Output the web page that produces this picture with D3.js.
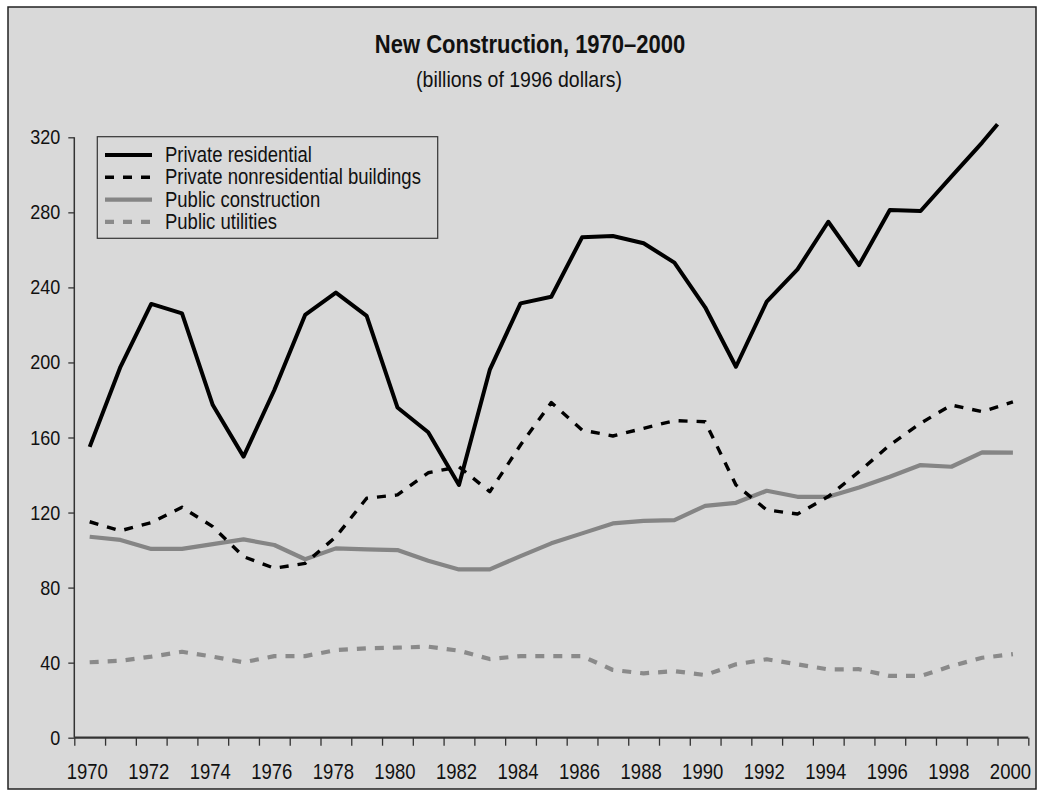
<!DOCTYPE html>
<html>
<head>
<meta charset="utf-8">
<script src="https://cdn.jsdelivr.net/npm/d3@7/dist/d3.min.js"></script>
<style>
  body { margin: 0; background: #fff; }
  svg text { font-family: "Liberation Sans", Arial, sans-serif; fill: #111; }
</style>
</head>
<body>
<div id="chart"></div>
<script>
//Datos
const years = d3.range(1970, 2001);
// la serie residencial termina a mitad del último año
const resYears = d3.range(1970, 2000).concat([1999.5]);
const privateResidential = [155, 197.7, 231.2, 226.2, 177.3, 149.8, 185.3, 225.3, 237.2, 224.8,
  176, 162.8, 134.7, 196, 231.5, 235, 266.7, 267.4, 263.5, 253.2,
  229.4, 197.7, 232.4, 249.6, 275, 251.9, 281.3, 280.7, 299, 317.2, 327];
const privateNonres = [115.1, 110.3, 114.6, 122.8, 112.5, 96.5, 90.3, 92.9, 107.1, 127.6,
  129.4, 141.2, 144.4, 131.1, 156, 178.6, 164, 160.8, 164.9, 169,
  168.4, 134.7, 121.4, 119.2, 128.5, 141.8, 156, 167.6, 177.3, 173.8, 179];
const publicConstruction = [107.1, 105.4, 100.6, 100.6, 103.2, 105.7, 102.7, 95.1, 100.9, 100.4,
  100, 94.3, 89.7, 89.7, 96.8, 103.6, 108.9, 114.2, 115.6, 116,
  123.6, 125.2, 131.6, 128.4, 128.4, 133.4, 139.1, 145.3, 144.4, 152.1, 151.9];
const publicUtilities = [40.2, 41, 43.2, 45.8, 43.2, 40.2, 43.5, 43.5, 46.7, 47.6,
  48, 48.5, 46.4, 41.9, 43.5, 43.5, 43.5, 36.1, 34.3, 35.5,
  33.4, 39.1, 41.8, 39.1, 36.4, 36.5, 32.9, 32.9, 38.2, 42.6, 44.5];
const yTicks = [0, 40, 80, 120, 160, 200, 240, 280, 320];
const xLabelYears = d3.range(1970, 2001, 2);
const seriesNames = ['Private residential', 'Private nonresidential buildings', 'Public construction', 'Public utilities'];

//Estilos de cada serie
const styles = [
  { color: '#000', width: 4, dash: null },
  { color: '#000', width: 3.4, dash: '9,9' },
  { color: '#858585', width: 4.2, dash: null },
  { color: '#8a8a8a', width: 4.2, dash: '9,9' }
];

const STRETCH = 1.15;
const W = 1040, H = 799;
const svg = d3.select('#chart').append('svg').attr('width', W).attr('height', H);

//El texto del original está algo estirado en vertical
function stretchText(sel) {
  sel.each(function() {
    let t = d3.select(this);
    let tx = +t.attr('x') || 0, ty = +t.attr('y') || 0;
    t.attr('x', 0).attr('y', 0)
      .attr('transform', 'translate(' + tx + ',' + ty + ') scale(1,' + STRETCH + ')');
  });
}

//Marco
svg.append('rect').attr('x', 8).attr('y', 7).attr('width', 1028).attr('height', 782)
  .attr('fill', '#d9d9d9').attr('stroke', '#222').attr('stroke-width', 1.5);

//Títulos
svg.append('text').attr('x', 530).attr('y', 53).attr('text-anchor', 'middle')
  .style('font-size', '22px').style('font-weight', 'bold').text('New Construction, 1970–2000')
  .call(stretchText);
svg.append('text').attr('x', 519).attr('y', 87).attr('text-anchor', 'middle')
  .style('font-size', '19.5px').text('(billions of 1996 dollars)')
  .call(stretchText);

//Escalas
let x = d3.scaleLinear().domain([1969.5, 2000.5]).range([74.3, 1028.3]);
let y = d3.scaleLinear().domain([0, 320]).range([737.7, 137.3]);

//Eje Y
let yAxis = svg.append('g').attr('transform', 'translate(' + x(1969.5) + ',0)')
  .call(d3.axisLeft(y).tickValues(yTicks).tickSize(6).tickPadding(8));
yAxis.select('.domain').attr('stroke', '#333').attr('stroke-width', 1.5).attr('d', 'M0,' + y(320) + 'V' + y(0));
yAxis.selectAll('.tick line').attr('stroke', '#333').attr('stroke-width', 1.3);
yAxis.selectAll('.tick text').style('font-size', '18px').attr('fill', '#111')
  .attr('dy', null).attr('y', 6.5).call(stretchText);

//Eje X: marcas entre años
let xTickAxis = svg.append('g').attr('transform', 'translate(0,' + y(0) + ')')
  .call(d3.axisBottom(x).tickValues(d3.range(1969.5, 2001, 1)).tickSize(8).tickFormat(''));
xTickAxis.select('.domain').attr('stroke', '#333').attr('stroke-width', 2.2).attr('d', 'M' + x(1969.5) + ',0H' + x(2000.5));
xTickAxis.selectAll('.tick line').attr('stroke', '#333').attr('stroke-width', 1.3);

//Eje X: etiquetas
let xLabelAxis = svg.append('g').attr('transform', 'translate(-3,' + y(0) + ')')
  .call(d3.axisBottom(x).tickValues(xLabelYears).tickSize(0).tickFormat(d3.format('d')));
xLabelAxis.select('.domain').remove();
xLabelAxis.selectAll('.tick text').style('font-size', '18.5px').attr('fill', '#111')
  .attr('dy', null).attr('y', 41).call(stretchText);

//Líneas
const seriesData = [
  resYears.map((yr, i) => [yr, privateResidential[i]]),
  years.map((yr, i) => [yr, privateNonres[i]]),
  years.map((yr, i) => [yr, publicConstruction[i]]),
  years.map((yr, i) => [yr, publicUtilities[i]])
];
let line = d3.line().x(d => x(d[0])).y(d => y(d[1]));
// se dibujan de atrás hacia delante
[3, 2, 1, 0].forEach(function(k) {
  svg.append('path').datum(seriesData[k])
    .attr('fill', 'none')
    .attr('stroke', styles[k].color)
    .attr('stroke-width', styles[k].width)
    .attr('stroke-dasharray', styles[k].dash)
    .attr('stroke-linejoin', 'round')
    .attr('d', line);
});

//Leyenda
let legend = svg.append('g');
legend.append('rect').attr('x', 97.3).attr('y', 136.7).attr('width', 340.4).attr('height', 101.6)
  .attr('fill', 'none').attr('stroke', '#333').attr('stroke-width', 1.2);
seriesNames.forEach(function(name, i) {
  let ly = 155 + i * 22.3;
  legend.append('line').attr('x1', 105).attr('x2', 152).attr('y1', ly).attr('y2', ly)
    .attr('stroke', styles[i].color).attr('stroke-width', styles[i].width)
    .attr('stroke-dasharray', styles[i].dash);
  legend.append('text').attr('x', 165).attr('y', ly + 7).style('font-size', '18.5px').text(name)
    .call(stretchText);
});
</script>
</body>
</html>
